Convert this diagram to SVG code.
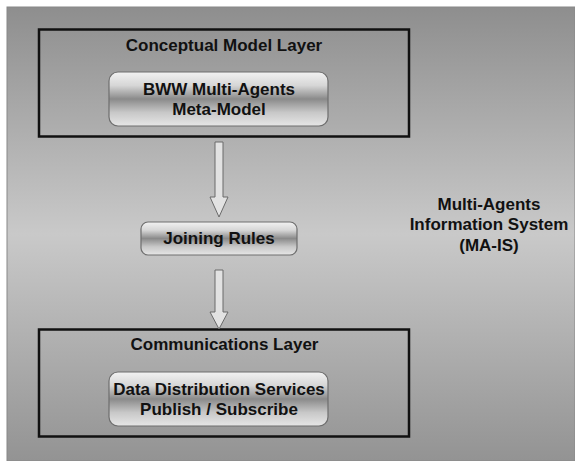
<svg xmlns="http://www.w3.org/2000/svg" width="575" height="461" viewBox="0 0 575 461">
  <defs>
    <linearGradient id="bg" x1="0" y1="0" x2="0" y2="1">
      <stop offset="0" stop-color="#8e8e8e"/>
      <stop offset="0.5" stop-color="#c9c9c9"/>
      <stop offset="1" stop-color="#939393"/>
    </linearGradient>
    <linearGradient id="gloss" x1="0" y1="0" x2="0" y2="1">
      <stop offset="0" stop-color="#f2f2f2"/>
      <stop offset="0.25" stop-color="#d6d6d6"/>
      <stop offset="0.5" stop-color="#8a8a8a"/>
      <stop offset="0.75" stop-color="#c8c8c8"/>
      <stop offset="1" stop-color="#e6e6e6"/>
    </linearGradient>
  </defs>
  <style>
    .layer { fill: none; stroke: #111; stroke-width: 2.5; }
    .pill { fill: url(#gloss); stroke: #6e6e6e; stroke-width: 1.2; }
    .t { font-family: "Liberation Sans", Arial, sans-serif; font-weight: bold; font-size: 17px; fill: #111; text-anchor: middle; }
    .arrow { fill: #e2e2e2; stroke: #6a6a6a; stroke-width: 1; }
  </style>
  <rect x="0" y="0" width="575" height="461" fill="#ffffff"/>
  <rect x="7" y="7" width="568" height="454" fill="url(#bg)" stroke="#888" stroke-width="1"/>

  <g id="conceptual-layer">
    <rect class="layer" x="39" y="29.5" width="370" height="107"/>
    <text class="t" x="224" y="51">Conceptual Model Layer</text>
  </g>
  <g id="bww-meta-model">
    <rect class="pill" x="109" y="72" width="219" height="54" rx="9"/>
    <text class="t" x="219" y="95">BWW Multi-Agents</text>
    <text class="t" x="219" y="115">Meta-Model</text>
  </g>
  <g id="joining-rules">
    <rect class="pill" x="141" y="222" width="156" height="33" rx="7"/>
    <text class="t" x="219" y="244">Joining Rules</text>
  </g>
  <g id="communications-layer">
    <rect class="layer" x="39" y="329.5" width="370" height="107"/>
    <text class="t" x="224.5" y="350">Communications Layer</text>
  </g>
  <g id="dds">
    <rect class="pill" x="109" y="372" width="219" height="54" rx="9"/>
    <text class="t" x="219" y="395">Data Distribution Services</text>
    <text class="t" x="219" y="415">Publish / Subscribe</text>
  </g>
  <g id="ma-is">
    <text class="t" x="489" y="210">Multi-Agents</text>
    <text class="t" x="489" y="230">Information System</text>
    <text class="t" x="489" y="251">(MA-IS)</text>
  </g>

  <g id="connectors">
    <path class="arrow" d="M215,142 H223 V197 H228 L219,217 L210,197 H215 Z"/>
    <path class="arrow" d="M215,270 H223 V312 H228 L219,329 L210,312 H215 Z"/>
  </g>
</svg>
